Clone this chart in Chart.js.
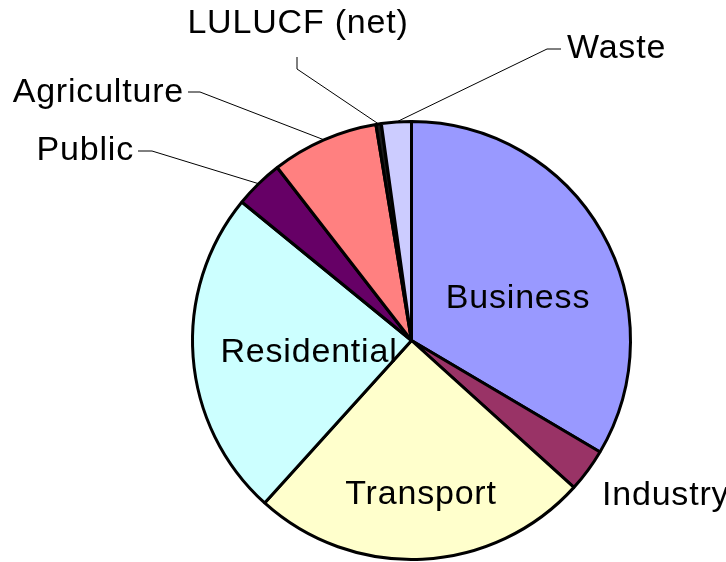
<!DOCTYPE html>
<html>
<head>
<meta charset="utf-8">
<script src="https://cdn.jsdelivr.net/npm/chart.js@4/dist/chart.umd.min.js"></script>
<style>
    body { margin: 0; background: #fff; }
    canvas { display: block; }
</style>
</head>
<body>
<canvas id="pie" width="726" height="562"></canvas>
<script>
// sectors, clockwise from 12 o'clock
var sectors = ['Business', 'Industry', 'Transport', 'Residential', 'Public', 'Agriculture', 'LULUCF (net)', 'Waste'];
var shares = [33.5, 3.2, 25.0, 24.2, 3.6, 7.9, 0.4, 2.2];
var colours = ['#9999FF', '#993366', '#FFFFCC', '#CCFFFF', '#660066', '#FF8080', '#1a1a1a', '#CCCCFF'];

// where each label goes (canvas px); leader = points of the callout line, the pie end is added at draw time
var labelLayout = {
    'Business':     { x: 518, y: 308, align: 'center' },
    'Transport':    { x: 421, y: 504, align: 'center' },
    'Residential':  { x: 309, y: 362, align: 'center' },
    'Industry':     { x: 602, y: 505, align: 'left' },
    'Public':       { x: 134, y: 160, align: 'right', leader: [[138, 151], [152, 151]] },
    'Agriculture':  { x: 184, y: 102, align: 'right', leader: [[188, 92], [200, 92]] },
    'LULUCF (net)': { x: 298, y: 33, align: 'center', leader: [[297, 57], [297, 69]] },
    'Waste':        { x: 567, y: 58, align: 'left', leader: [[561, 49], [547, 49]] }
};

Chart.register({
    id: 'sectorLabels',
    afterDraw: function (chart) {
        var ctx = chart.ctx;
        var arcs = chart.getDatasetMeta(0).data;
        ctx.save();
        ctx.font = '34px "Liberation Sans", Arial, sans-serif';
        ctx.letterSpacing = '0.8px';
        ctx.fillStyle = '#000';
        ctx.textBaseline = 'alphabetic';
        arcs.forEach(function (arc, i) {
            var lab = labelLayout[sectors[i]];
            if (!lab) return;
            if (lab.leader) {
                var mid = (arc.startAngle + arc.endAngle) / 2;
                var ex = arc.x + Math.cos(mid) * arc.outerRadius;
                var ey = arc.y + Math.sin(mid) * arc.outerRadius;
                ctx.beginPath();
                ctx.strokeStyle = '#000';
                ctx.lineWidth = 1;
                ctx.moveTo(lab.leader[0][0], lab.leader[0][1]);
                for (var k = 1; k < lab.leader.length; k++) {
                    ctx.lineTo(lab.leader[k][0], lab.leader[k][1]);
                }
                ctx.lineTo(ex, ey);
                ctx.stroke();
            }
            ctx.textAlign = lab.align;
            ctx.fillText(sectors[i], lab.x, lab.y);
        });
        ctx.restore();
    }
});

new Chart(document.getElementById('pie').getContext('2d'), {
    type: 'pie',
    data: {
        labels: sectors,
        datasets: [{
            data: shares,
            backgroundColor: colours,
            borderColor: '#000',
            borderWidth: 3,
            borderAlign: 'center'
        }]
    },
    options: {
        responsive: false,
        animation: false,
        events: [],
        layout: {
            padding: { left: 191, right: 94, top: 120, bottom: 1 }
        },
        plugins: {
            legend: { display: false },
            tooltip: { enabled: false }
        }
    }
});
</script>
</body>
</html>
